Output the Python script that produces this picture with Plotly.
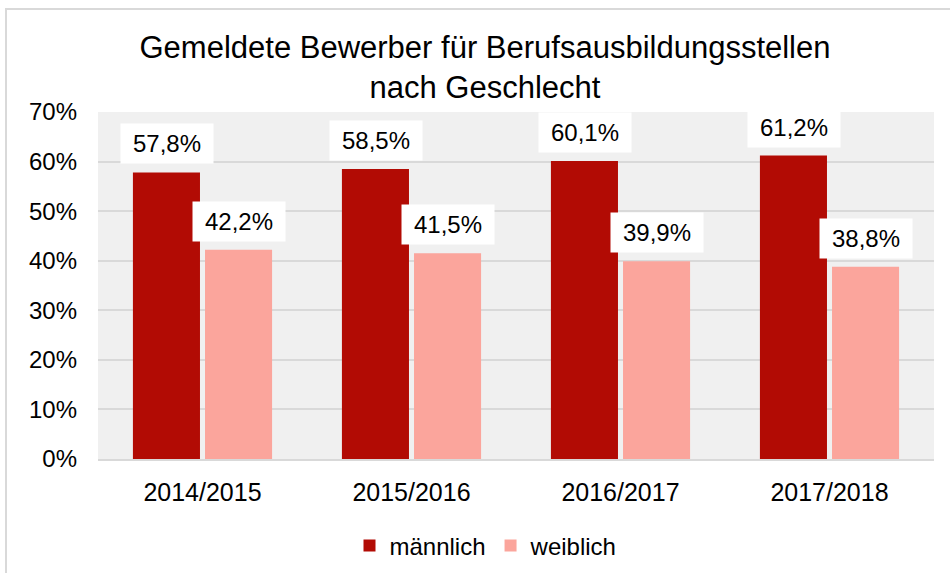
import plotly.graph_objects as go

categories = ["2014/2015", "2015/2016", "2016/2017", "2017/2018"]
maennlich = [57.8, 58.5, 60.1, 61.2]
weiblich = [42.2, 41.5, 39.9, 38.8]
series_names = ["männlich", "weiblich"]
colors = ["#B20B04", "#FBA59C"]
y_ticks = [0, 10, 20, 30, 40, 50, 60, 70]

W, H = 950, 573
L, R, T, B = 98, 16, 112, 114
PW, PH = W - L - R, H - T - B

def px_x(px):
    return (px - L) / PW

def px_y(py):
    return (H - B - py) / PH

FONT = "Liberation Sans, Arial, sans-serif"

fig = go.Figure()
for name, vals, col in zip(series_names, [maennlich, weiblich], colors):
    fig.add_trace(go.Bar(
        x=categories, y=vals, name=name,
        marker=dict(color=col, line=dict(width=0)),
    ))

def fmt(v):
    return f"{v:.1f}".replace(".", ",") + "%"

annotations = []
for vals, shift in zip([maennlich, weiblich], [-36, 36]):
    for c, v in zip(categories, vals):
        annotations.append(dict(
            x=c, y=v, xref="x", yref="y", text=fmt(v),
            showarrow=False, xshift=shift, yshift=8,
            yanchor="bottom", xanchor="center",
            bgcolor="white", width=92, height=39, borderpad=0,
            font=dict(size=24, color="black", family=FONT),
        ))

fig.update_layout(
    width=W, height=H,
    margin=dict(l=L, r=R, t=T, b=B, autoexpand=False),
    paper_bgcolor="white",
    plot_bgcolor="#F0F0F0",
    font=dict(family=FONT, color="black"),
    separators=",.",
    title=dict(
        text="Gemeldete Bewerber für Berufsausbildungsstellen<br>nach Geschlecht",
        x=485 / W, xanchor="center", xref="container",
        y=1 - 58 / H, yanchor="top", yref="container",
        font=dict(size=31, color="black", family=FONT),
    ),
    barmode="group",
    bargap=0.31,
    bargroupgap=0.07,
    showlegend=True,
    legend=dict(
        orientation="h", x=px_x(486), xanchor="center",
        y=px_y(546), yanchor="middle",
        font=dict(size=24, color="black", family=FONT),
        bgcolor="rgba(0,0,0,0)",
    ),
    xaxis=dict(
        type="category", showgrid=False, showline=True,
        linecolor="#D9D9D9", linewidth=2, ticks="",
        tickfont=dict(size=25, color="black", family=FONT),
        ticklabelstandoff=10, automargin=False,
    ),
    yaxis=dict(
        range=[0, 70], tickvals=y_ticks,
        ticktext=[f"{t}%" for t in y_ticks],
        showgrid=True, gridcolor="#D9D9D9", gridwidth=2,
        zeroline=False, showline=False, ticks="",
        tickfont=dict(size=24, color="black", family=FONT),
        ticklabelstandoff=20, automargin=False,
    ),
    annotations=annotations,
    shapes=[dict(
        type="rect", xref="paper", yref="paper",
        x0=px_x(6), x1=px_x(962), y0=px_y(590), y1=px_y(9),
        line=dict(color="#D9D9D9", width=2), fillcolor="rgba(0,0,0,0)",
        layer="below",
    )],
)

fig.write_html("out.html")
